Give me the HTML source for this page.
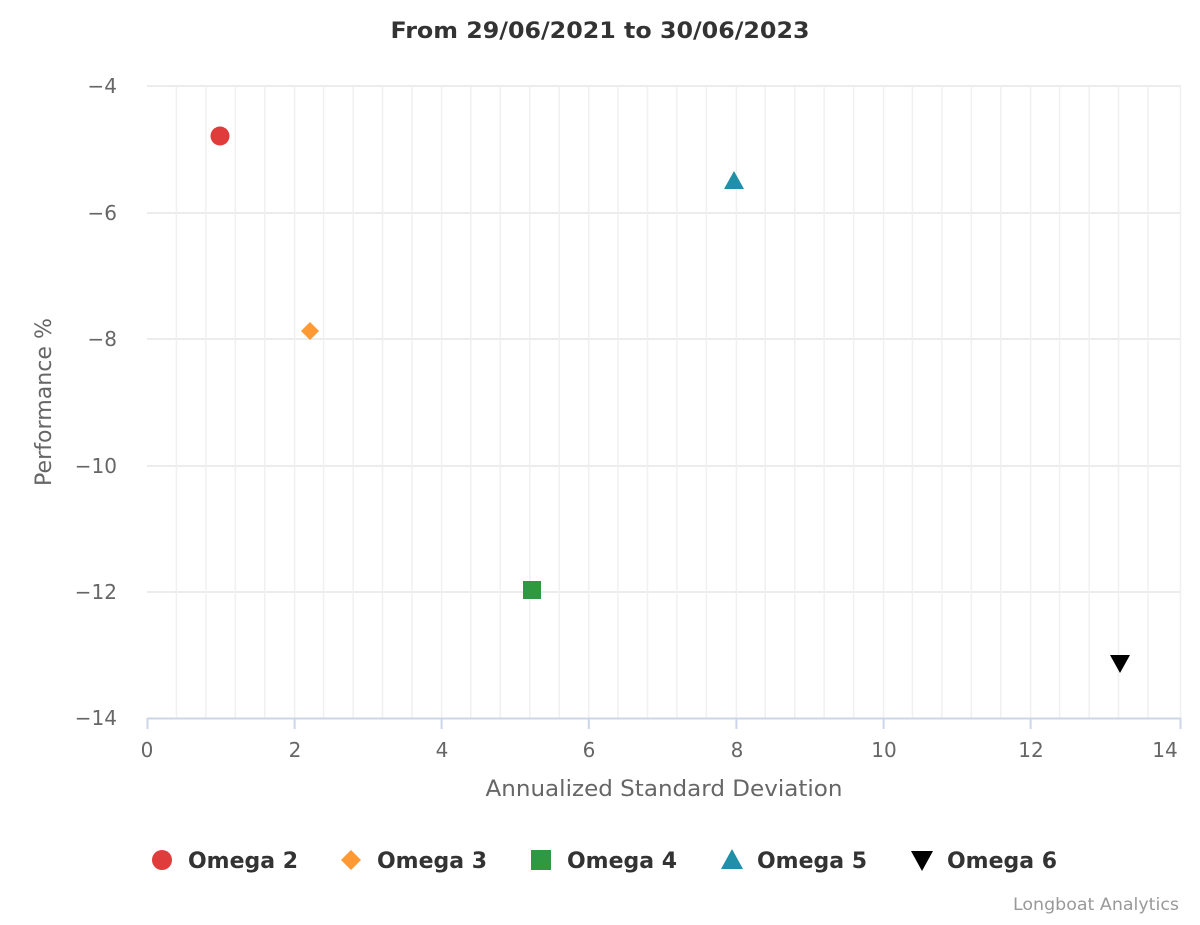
<!DOCTYPE html>
<html><head><style>body{margin:0;background:#fff}</style></head><body>
<svg width="1200" height="920" xmlns="http://www.w3.org/2000/svg" font-family="DejaVu Sans, sans-serif">
<rect width="1200" height="920" fill="#fff"/>
<text x="600" y="38" text-anchor="middle" font-size="22" font-weight="bold" fill="#333" textLength="419" lengthAdjust="spacingAndGlyphs">From 29/06/2021 to 30/06/2023</text>
<g stroke="#e6e6e6" stroke-width="1.5">
<line x1="147" y1="86" x2="1181" y2="86"/><line x1="147" y1="213" x2="1181" y2="213"/><line x1="147" y1="339" x2="1181" y2="339"/><line x1="147" y1="466" x2="1181" y2="466"/><line x1="147" y1="592" x2="1181" y2="592"/>
</g>
<g stroke="#f0f0f0" stroke-width="1.5">
<line x1="176.4" y1="86" x2="176.4" y2="718"/><line x1="205.9" y1="86" x2="205.9" y2="718"/><line x1="235.3" y1="86" x2="235.3" y2="718"/><line x1="264.8" y1="86" x2="264.8" y2="718"/><line x1="294.6" y1="86" x2="294.6" y2="718"/><line x1="323.6" y1="86" x2="323.6" y2="718"/><line x1="353.1" y1="86" x2="353.1" y2="718"/><line x1="382.5" y1="86" x2="382.5" y2="718"/><line x1="412" y1="86" x2="412" y2="718"/><line x1="441.6" y1="86" x2="441.6" y2="718"/><line x1="470.8" y1="86" x2="470.8" y2="718"/><line x1="500.3" y1="86" x2="500.3" y2="718"/><line x1="529.7" y1="86" x2="529.7" y2="718"/><line x1="559.2" y1="86" x2="559.2" y2="718"/><line x1="588.8" y1="86" x2="588.8" y2="718"/><line x1="618" y1="86" x2="618" y2="718"/><line x1="647.5" y1="86" x2="647.5" y2="718"/><line x1="676.9" y1="86" x2="676.9" y2="718"/><line x1="706.4" y1="86" x2="706.4" y2="718"/><line x1="736.4" y1="86" x2="736.4" y2="718"/><line x1="765.2" y1="86" x2="765.2" y2="718"/><line x1="794.7" y1="86" x2="794.7" y2="718"/><line x1="824.1" y1="86" x2="824.1" y2="718"/><line x1="853.6" y1="86" x2="853.6" y2="718"/><line x1="883.6" y1="86" x2="883.6" y2="718"/><line x1="912.4" y1="86" x2="912.4" y2="718"/><line x1="941.9" y1="86" x2="941.9" y2="718"/><line x1="971.3" y1="86" x2="971.3" y2="718"/><line x1="1000.8" y1="86" x2="1000.8" y2="718"/><line x1="1030.6" y1="86" x2="1030.6" y2="718"/><line x1="1059.6" y1="86" x2="1059.6" y2="718"/><line x1="1089.1" y1="86" x2="1089.1" y2="718"/><line x1="1118.5" y1="86" x2="1118.5" y2="718"/><line x1="1148" y1="86" x2="1148" y2="718"/><line x1="1180.5" y1="86" x2="1180.5" y2="718"/>
</g>
<g stroke="#ccd6eb" stroke-width="2">
<line x1="147" y1="718.5" x2="1181" y2="718.5"/>
<line x1="147.5" y1="718" x2="147.5" y2="729"/><line x1="294.6" y1="718" x2="294.6" y2="729"/><line x1="441.6" y1="718" x2="441.6" y2="729"/><line x1="588.8" y1="718" x2="588.8" y2="729"/><line x1="736.4" y1="718" x2="736.4" y2="729"/><line x1="883.6" y1="718" x2="883.6" y2="729"/><line x1="1030.6" y1="718" x2="1030.6" y2="729"/><line x1="1180.5" y1="718" x2="1180.5" y2="729"/>
</g>
<g font-size="20" fill="#666" text-anchor="end">
<text x="117" y="93">−4</text><text x="117" y="220">−6</text><text x="117" y="346">−8</text><text x="117" y="473">−10</text><text x="117" y="599">−12</text><text x="117" y="725">−14</text>
</g>
<g font-size="20" fill="#666" text-anchor="middle">
<text x="147" y="757">0</text><text x="295" y="757">2</text><text x="442" y="757">4</text><text x="589" y="757">6</text><text x="737" y="757">8</text><text x="884" y="757">10</text><text x="1031" y="757">12</text><text x="1165" y="757">14</text>
</g>
<text x="664" y="796" text-anchor="middle" font-size="22" fill="#666" textLength="357" lengthAdjust="spacingAndGlyphs">Annualized Standard Deviation</text>
<text transform="translate(51,402) rotate(-90)" text-anchor="middle" font-size="22" fill="#666" textLength="168" lengthAdjust="spacingAndGlyphs">Performance %</text>
<circle cx="220" cy="136" r="9.5" fill="#e03c3c"/>
<polygon points="310,322 319,331 310,340 301,331" fill="#ff9933"/>
<rect x="523" y="581" width="18" height="18" fill="#2e9940"/>
<polygon points="734,171 744,189 724,189" fill="#2090a8"/>
<polygon points="1110,655 1130,655 1120,673" fill="#000"/>
<g font-size="22" font-weight="bold" fill="#333">
<circle cx="162" cy="860" r="10" fill="#e03c3c"/><text x="188" y="868" textLength="110" lengthAdjust="spacingAndGlyphs">Omega 2</text>
<polygon points="351,850 361,860 351,870 341,860" fill="#ff9933"/><text x="377" y="868" textLength="110" lengthAdjust="spacingAndGlyphs">Omega 3</text>
<rect x="531" y="850" width="20" height="20" fill="#2e9940"/><text x="567" y="868" textLength="110" lengthAdjust="spacingAndGlyphs">Omega 4</text>
<polygon points="732,849 743,869 721,869" fill="#2090a8"/><text x="757" y="868" textLength="110" lengthAdjust="spacingAndGlyphs">Omega 5</text>
<polygon points="911,851 933,851 922,871" fill="#000"/><text x="947" y="868" textLength="110" lengthAdjust="spacingAndGlyphs">Omega 6</text>
</g>
<text x="1179" y="910" text-anchor="end" font-size="17" fill="#999" textLength="166" lengthAdjust="spacingAndGlyphs">Longboat Analytics</text>
</svg>
</body></html>
